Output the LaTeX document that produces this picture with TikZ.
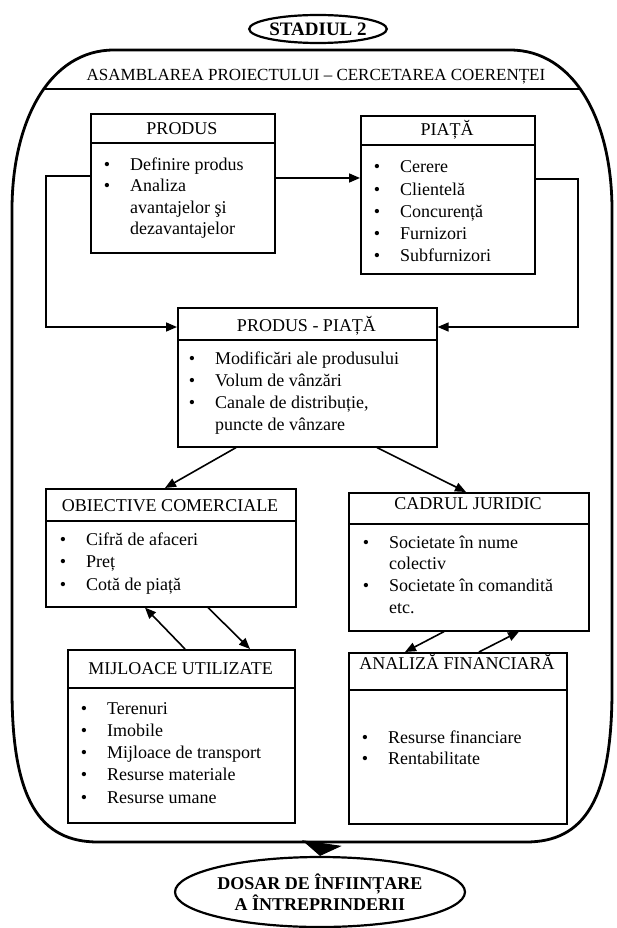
\documentclass[tikz,border=0pt]{standalone}
\usepackage{fontspec}
\setmainfont{Liberation Serif}
\usetikzlibrary{shapes.geometric,arrows.meta}
\tikzset{
  box/.style={draw, line width=1.6pt, inner sep=0pt, anchor=north west},
  ttl/.style={anchor=base, inner sep=0pt, font=\fontsize{18}{21}\selectfont},
  itm/.style={anchor=base west, inner sep=0pt, font=\fontsize{18}{21}\selectfont},
  arr/.style={line width=1.6pt, -{Triangle[length=11pt,width=9pt]}},
  conn/.style={line width=1.6pt},
  oval/.style={draw, ellipse, line width=2.2pt, inner sep=0pt, align=center},
}
\newcommand\blist[5]{%
  \foreach \xflag/\xtext [count=\xn from 0] in {#5}{
    \node[itm] (#1\xn) at ({#2},{#3+\xn*#4}) {\ifnum\xflag=1 \llap{\textbullet\hspace{20pt}}\fi\xtext};
  }}
\begin{document}
\begin{tikzpicture}[x=1pt,y=-1pt]
\fill[white] (0,0) rectangle (616,928);
\useasboundingbox (0,0) rectangle (616,928);

% stage oval
\node[oval, minimum width=130pt, minimum height=28pt, font=\bfseries\fontsize{19}{22}\selectfont] (st) at (318,29) {STADIUL 2};

% outer frame
\def\outerpath{(12,210) .. controls (12,120) and (50,50) .. (114,50) -- (510,50) .. controls (574,50) and (612,120) .. (612,210) -- (612,690) .. controls (612,800) and (584,842) .. (526,842) -- (98,842) .. controls (40,842) and (12,800) .. (12,690) -- cycle}
\begin{scope}
  \clip \outerpath;
  \draw[conn] (0,89) -- (616,89);
\end{scope}
\draw[line width=2.8pt] \outerpath;
\coordinate (ob) at (322,842);

\node[anchor=base, inner sep=0pt, font=\fontsize{17}{20}\selectfont] (hdr) at (316,81) {ASAMBLAREA PROIECTULUI – CERCETAREA COERENȚEI};

% boxes
\node[box, minimum width=184pt, minimum height=139pt] (produs) at (90,113) {};
\node[box, minimum width=174pt, minimum height=158pt] (piata) at (360,115) {};
\node[box, minimum width=259pt, minimum height=139pt] (pp) at (177,307) {};
\node[box, minimum width=250pt, minimum height=118pt] (obj) at (45,488) {};
\node[box, minimum width=240pt, minimum height=138pt] (cadrul) at (348,492) {};
\node[box, minimum width=227pt, minimum height=173pt] (mij) at (67,649) {};
\node[box, minimum width=218pt, minimum height=171pt] (af) at (348,652) {};

% title dividers
\draw[conn] (produs.west |- 0,143) -- (produs.east |- 0,143);
\draw[conn] (piata.west |- 0,145) -- (piata.east |- 0,145);
\draw[conn] (pp.west |- 0,340) -- (pp.east |- 0,340);
\draw[conn] (obj.west |- 0,521) -- (obj.east |- 0,521);
\draw[conn] (cadrul.west |- 0,524) -- (cadrul.east |- 0,524);
\draw[conn] (mij.west |- 0,688) -- (mij.east |- 0,688);
\draw[conn] (af.west |- 0,690) -- (af.east |- 0,690);

% titles
\node[ttl] (tprodus) at (182,135) {PRODUS};
\node[ttl] (tpiata) at (447,136) {PIAȚĂ};
\node[ttl] (tpp) at (306.5,331) {PRODUS - PIAȚĂ};
\node[ttl] (tobj) at (170,511) {OBIECTIVE COMERCIALE};
\node[ttl] (tcadrul) at (468,509) {CADRUL JURIDIC};
\node[ttl] (tmij) at (180.5,674) {MIJLOACE UTILIZATE};
\node[ttl] (taf) at (457,669) {ANALIZĂ FINANCIARĂ};

% items
\blist{ip}{130}{171}{21}{1/Definire produs, 1/Analiza, 0/avantajelor şi, 0/dezavantajelor}
\blist{ipi}{400}{173}{22}{1/Cerere, 1/Clientelă, 1/Concurență, 1/Furnizori, 1/Subfurnizori}
\blist{ipp}{215}{364}{22}{1/Modificări ale produsului, 1/Volum de vânzări, 1/{Canale de distribuție,}, 0/puncte de vânzare}
\blist{iob}{86}{545}{22.5}{1/Cifră de afaceri, 1/Preț, 1/Cotă de piață}
\blist{icj}{389}{548}{21.7}{1/Societate în nume, 0/colectiv, 1/Societate în comandită, 0/etc.}
\blist{imu}{107}{714}{22.3}{1/Terenuri, 1/Imobile, 1/Mijloace de transport, 1/Resurse materiale, 1/Resurse umane}
\blist{iaf}{388}{743}{21}{1/Resurse financiare, 1/Rentabilitate}

% connectors
\draw[arr] (produs.east |- 0,178) -- (piata.west |- 0,178);
\draw[arr] (produs.west |- 0,176) -- (46,176) -- (46,327) -- (pp.west |- 0,327);
\draw[arr] (piata.east |- 0,179) -- (578,179) -- (578,327) -- (pp.east |- 0,327);
\draw[arr] (pp.south -| 236,0) -- (obj.north -| 165,0);
\draw[arr] (pp.south -| 377,0) -- (cadrul.north -| 466,0);
\draw[arr] (mij.north -| 185,0) -- (obj.south -| 145,0);
\draw[arr] (obj.south -| 208,0) -- (mij.north -| 250,0);
\draw[arr] (cadrul.south -| 444,0) -- (af.north -| 405,0);
\draw[arr] (af.north -| 479,0) -- (cadrul.south -| 519,0);

% final oval
\node[oval, minimum width=252pt, minimum height=70pt, font=\bfseries\fontsize{18}{21}\selectfont] (dosar) at (320,892) {DOSAR DE ÎNFIINȚARE\\A ÎNTREPRINDERII};
\draw[line width=1pt, -{Triangle[length=13pt,width=40pt]}] (ob) -- (dosar.north);
\end{tikzpicture}
\end{document}
